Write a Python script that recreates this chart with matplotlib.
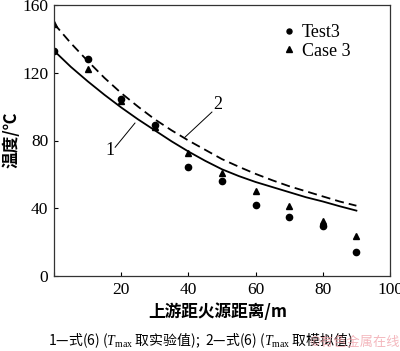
import matplotlib
matplotlib.use("Agg")
import matplotlib.pyplot as plt

plt.rcParams['mathtext.fontset'] = 'custom'
plt.rcParams['mathtext.rm'] = 'Liberation Serif'
plt.rcParams['mathtext.it'] = 'Liberation Serif:italic'

# data
x_pts = [0, 10, 20, 30, 40, 50, 60, 70, 80, 90]
test3 = [133, 128, 104.5, 89, 64.5, 56, 42, 35, 29.5, 14.2]
case3 = [149, 122.5, 103.3, 88, 72.4, 61, 50.2, 41.3, 32.5, 23.6]

x_curve = [0, 5, 10, 15, 20, 25, 30, 35, 40, 45, 50, 55, 60, 65, 70, 75, 80, 85, 90]
curve1 = [133, 123.5, 115, 107, 99.5, 92.5, 86, 79.5, 73.5, 68, 63, 59, 55.5, 52.5, 49.5, 46.5, 44, 41.2, 38.6]
curve2 = [149, 137.5, 127, 117, 108, 100, 92.5, 86, 80, 74.5, 69, 64.5, 60.3, 56.5, 53, 50, 47, 44, 41.5]

x_ticks = [0, 20, 40, 60, 80, 100]
x_ticklabels = ['', '20', '40', '60', '80', '100']
y_ticks = [0, 40, 80, 120, 160]
y_ticklabels = ['0', '40', '80', '120', '160']

serif = ['Liberation Serif', 'Noto Sans CJK SC', 'DejaVu Sans']
cjk = ['Noto Sans CJK SC', 'Liberation Serif', 'DejaVu Sans']

fig = plt.figure(figsize=(4.0, 3.51), dpi=100)
ax = fig.add_axes([54/400, 1-276/351, (390-54)/400, (276-5)/351])

ax.plot(x_curve, curve1, color='black', lw=1.3, ls='-')
ax.plot(x_curve, curve2, color='black', lw=1.3, ls=(0, (5, 2.8)))
ax.plot(x_pts, test3, 'o', color='black', ms=4.5, ls='none', label='Test3')
ax.plot(x_pts, case3, '^', color='black', ms=5, ls='none', label='Case 3')

ax.set_xlim(0, 100)
ax.set_ylim(0, 160)
ax.set_xticks(x_ticks)
ax.set_xticklabels(x_ticklabels)
ax.set_yticks(y_ticks)
ax.set_yticklabels(y_ticklabels)
ax.tick_params(direction='in', length=3, width=0.8, labelsize=12.5, pad=4)
for lbl in ax.get_xticklabels() + ax.get_yticklabels():
    lbl.set_family(serif)
for s in ax.spines.values():
    s.set_linewidth(0.9)
    s.set_color('#333333')

leg = ax.legend(loc='upper right', bbox_to_anchor=(0.93, 0.99), frameon=False,
                handlelength=0.6, handletextpad=0.4, labelspacing=0.1, markerscale=0.8,
                prop={'family': serif, 'size': 13})

# annotations
ax.plot([18.2, 24.1], [76, 90.3], color='black', lw=0.7)
ax.text(16.8, 74, '1', fontsize=13, family=serif, ha='center', va='center')
ax.plot([39, 47], [82, 96.8], color='black', lw=0.7)
ax.text(48.8, 101, '2', fontsize=13, family=serif, ha='center', va='center')

fig.text(12/400, 1-140/351, '温度/℃', rotation=90, fontsize=12, family=cjk,
         fontweight='bold', ha='center', va='center')
fig.text(218/400, 1-312/351, '上游距火源距离/m', fontsize=12, family=cjk,
         fontweight='bold', ha='center', va='center')
fig.text(200/400, 1-340/351,
         r'1—式(6) ($T_{\mathrm{max}}$ 取实验值);  2—式(6) ($T_{\mathrm{max}}$ 取模拟值)',
         fontsize=10, family=cjk, ha='center', va='center')
fig.text(355/400, 1-342/351, '©有色金属在线', fontsize=9.5, family=cjk,
         color='#f0a0a8', alpha=0.75, ha='center', va='center')

fig.savefig('out.png', dpi=100)
